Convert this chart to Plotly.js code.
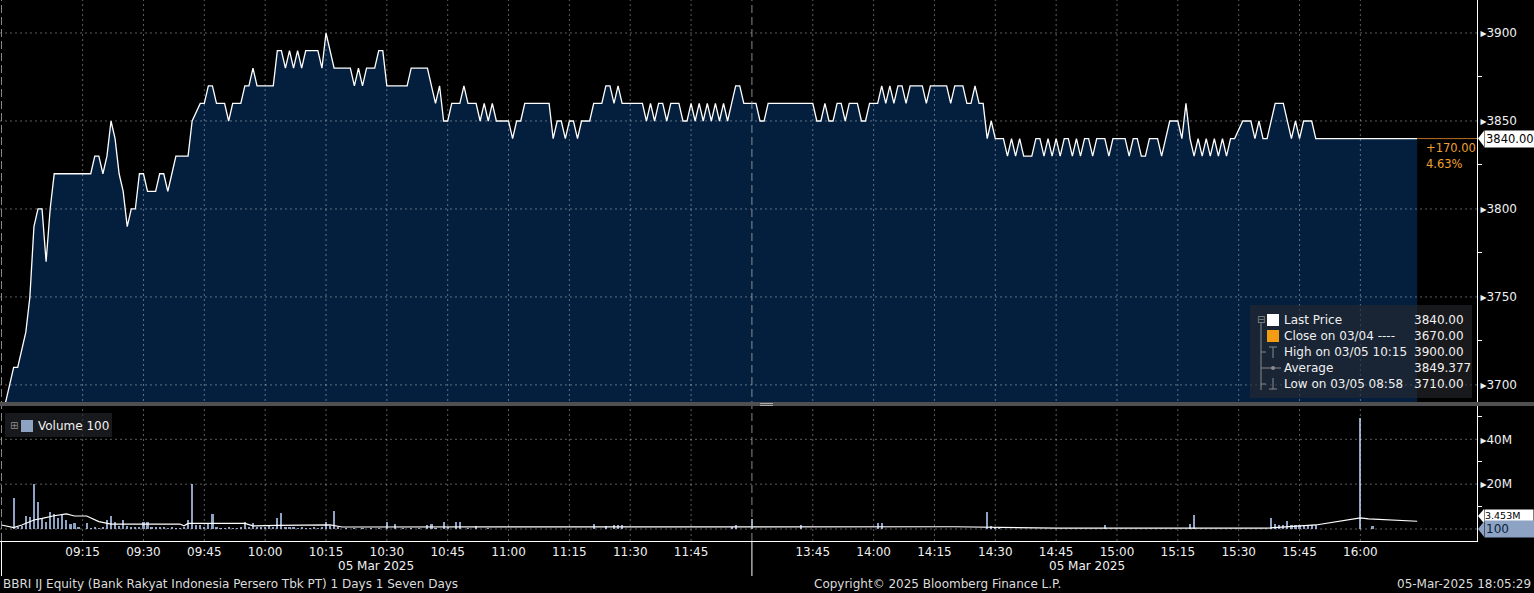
<!DOCTYPE html>
<html><head><meta charset="utf-8">
<script src="https://cdn.plot.ly/plotly-3.0.1.min.js"></script>
<style>html,body{margin:0;padding:0;background:#000;overflow:hidden}#chart{width:1534px;height:593px}</style>
</head><body><div id="chart"></div>
<script>
const DAY = '2025-03-05 ';

// ---- Last price (1-minute), HH:MM / price ----
const priceTimes = ['08:56','08:57','08:58','08:59','09:00','09:01','09:02','09:03','09:04','09:05','09:06','09:07','09:08','09:17','09:18','09:19','09:20','09:21','09:22','09:23','09:24','09:25','09:26','09:27','09:28','09:29','09:30','09:31','09:33','09:34','09:35','09:36','09:37','09:38','09:41','09:42','09:44','09:45','09:46','09:47','09:48','09:50','09:51','09:52','09:54','09:55','09:56','09:57','09:58','10:02','10:03','10:04','10:05','10:06','10:07','10:08','10:09','10:10','10:13','10:14','10:15','10:16','10:17','10:21','10:22','10:23','10:24','10:25','10:27','10:28','10:29','10:30','10:35','10:36','10:40','10:41','10:42','10:43','10:44','10:45','10:46','10:48','10:49','10:50','10:52','10:53','10:54','10:55','10:56','10:57','11:00','11:01','11:02','11:03','11:04','11:10','11:11','11:12','11:13','11:14','11:15','11:16','11:17','11:18','11:20','11:21','11:23','11:24','11:25','11:26','11:27','11:28','11:33','11:34','11:35','11:36','11:37','11:38','11:39','11:40','11:42','11:43','11:44','11:45','11:46','11:47','11:48','11:49','11:50','11:51','11:52','11:53','11:54','11:55','11:56','11:57','11:58','11:59',
'13:30','13:31','13:32','13:33','13:34','13:45','13:46','13:47','13:48','13:49','13:50','13:51','13:52','13:53','13:54','13:56','13:57','13:58','13:59','14:01','14:02','14:03','14:04','14:05','14:06','14:07','14:08','14:09','14:12','14:13','14:14','14:18','14:19','14:20','14:22','14:23','14:24','14:25','14:26','14:27','14:28','14:29','14:30','14:32','14:33','14:34','14:35','14:36','14:37','14:39','14:40','14:41','14:42','14:43','14:44','14:45','14:46','14:47','14:48','14:49','14:50','14:51','14:52','14:53','14:54','14:55','14:57','14:58','14:59','15:02','15:03','15:04','15:05','15:06','15:07','15:08','15:10','15:11','15:12','15:13','15:15','15:16','15:17','15:18','15:19','15:20','15:21','15:22','15:23','15:24','15:25','15:26','15:27','15:28','15:29','15:31','15:33','15:34','15:35','15:36','15:37','15:38','15:39','15:41','15:42','15:43','15:44','15:45','15:46','15:48','15:49','16:00','16:14'];
const priceValues = [3690,3700,3710,3710,3720,3730,3750,3790,3800,3800,3770,3800,3820,3820,3830,3830,3820,3830,3850,3840,3820,3810,3790,3800,3800,3820,3820,3810,3810,3820,3820,3810,3820,3830,3830,3850,3860,3860,3870,3870,3860,3860,3850,3860,3860,3870,3870,3880,3870,3870,3890,3890,3880,3890,3880,3890,3880,3890,3890,3880,3900,3890,3880,3880,3870,3880,3870,3880,3880,3890,3890,3870,3870,3880,3880,3870,3860,3870,3850,3850,3860,3860,3870,3860,3860,3850,3860,3850,3860,3850,3850,3840,3850,3850,3860,3860,3840,3850,3850,3840,3850,3850,3840,3850,3850,3860,3860,3870,3870,3860,3870,3860,3860,3850,3860,3850,3860,3860,3850,3860,3860,3850,3850,3860,3850,3860,3850,3860,3850,3860,3850,3860,3850,3860,3870,3870,3860,3860,
3860,3860,3850,3850,3860,3860,3850,3850,3860,3850,3850,3860,3860,3850,3860,3860,3850,3850,3860,3860,3870,3860,3870,3860,3870,3870,3860,3870,3870,3860,3870,3870,3860,3870,3870,3860,3860,3870,3860,3860,3840,3850,3840,3840,3830,3840,3830,3840,3830,3830,3840,3840,3830,3840,3830,3840,3830,3840,3840,3830,3840,3830,3840,3840,3830,3840,3840,3830,3840,3840,3830,3840,3840,3830,3830,3840,3840,3830,3840,3850,3850,3840,3860,3840,3830,3840,3830,3840,3830,3840,3830,3840,3830,3840,3840,3850,3850,3840,3850,3840,3840,3850,3860,3860,3850,3840,3850,3840,3850,3850,3840,3840,3840];

// ---- Volume bars (millions of shares) ----
const volTimes = ['08:58','08:59','09:00','09:01','09:02','09:03','09:04','09:05','09:06','09:07','09:08','09:09','09:10','09:11','09:12','09:13','09:14','09:16','09:17','09:18','09:19','09:20','09:21','09:22','09:23','09:24','09:25','09:26','09:27','09:28','09:29','09:30','09:31','09:32','09:33','09:34','09:35','09:36','09:37','09:38','09:39','09:40','09:41','09:42','09:43','09:44','09:45','09:46','09:47','09:48','09:49','09:50','09:51','09:52','09:53','09:54','09:55','09:56','09:57','09:58','09:59','10:00','10:01','10:02','10:03','10:04','10:05','10:06','10:07','10:08','10:09','10:10','10:11','10:12','10:13','10:14','10:15','10:16','10:17','10:18','10:20','10:22','10:24','10:26','10:28','10:30','10:32','10:34','10:36','10:38','10:40','10:41','10:42','10:44','10:45','10:47','10:48','10:50','10:52','10:55','11:21','11:24','11:26','11:27','11:28','11:55','11:56','13:30','13:42','14:01','14:02','14:28','14:29','14:30','14:31','14:57','15:18','15:19','15:38','15:39','15:40','15:41','15:42','15:43','15:44','15:45','15:46','15:47','15:48','15:49','16:00','16:03'];
const volValues = [14.0,0.8,1.5,5.9,5.5,20.0,12.0,4.3,3.3,7.6,6.7,5.0,6.2,4.0,2.1,2.5,1.0,2.5,0.6,0.8,0.6,1.0,4.2,6.0,3.0,1.5,4.0,1.2,1.0,1.0,0.8,3.0,3.0,0.8,0.8,0.8,0.8,0.6,0.8,0.6,0.6,0.8,3.8,20.0,2.0,2.0,1.0,2.5,6.5,0.8,0.6,0.6,0.8,0.6,0.6,0.8,3.0,1.0,2.5,0.8,0.8,0.8,2.0,1.0,4.7,7.1,1.0,0.8,0.8,0.6,0.8,0.6,0.6,0.8,0.6,1.0,3.0,1.2,8.0,0.8,0.6,0.6,0.6,0.6,0.6,3.0,2.3,0.6,0.6,0.6,1.7,2.4,0.6,3.0,0.8,3.0,3.0,0.6,1.5,0.6,2.1,1.5,1.6,1.6,2.0,1.0,1.8,4.3,2.0,2.6,2.6,7.6,1.2,1.0,1.0,1.8,2.4,6.2,5.0,2.4,1.8,1.8,3.6,1.8,1.6,1.6,1.6,1.6,1.6,1.6,49.7,1.3];

// ---- Volume average line (millions) ----
const volAvgTimes = ['08:55','08:58','09:00','09:03','09:05','09:08','09:11','09:13','09:16','09:19','09:22','09:39','09:40','09:41','09:55','09:57','10:03','10:13','10:16','10:19','10:58','11:59','13:30','14:20','14:45','15:37','15:49','16:00','16:02','16:09','16:14'];
const volAvgValues = [1.8,0.6,1.8,4.0,4.7,5.9,6.7,5.8,5.8,3.3,2.2,2.2,1.4,2.5,2.5,1.4,1.6,1.6,1.8,0.9,0.9,0.7,0.8,1.0,0.4,0.4,1.8,5.0,4.5,3.7,3.45];

// ---- Axes ----
const xTickTimes = ['09:15','09:30','09:45','10:00','10:15','10:30','10:45','11:00','11:15','11:30','11:45','13:45','14:00','14:15','14:30','14:45','15:00','15:15','15:30','15:45','16:00'];
const sessionStarts = ['08:55','13:30'];
const priceTicks = [3700,3750,3800,3850,3900];
const priceMinorTicks = [3725,3775,3825,3875];
const volTicks = [20,40];
const volMinorTicks = [10,30,50];
const volGrid = [0,20,40];

const lastPrice = 3840.00, prevClose = 3670.00, highPx = 3900.00, avgPx = 3849.377, lowPx = 3710.00;
const lastVolume = 100, avgVolume = 3.453, avgVolumeLabel = '3.453M';

const W = 1477, H = 541;
const px = v => v / W;
const py = v => (H - v) / H;
const T = t => DAY + t + ':00';
const FONT = 'DejaVu Sans, Verdana, sans-serif';
const xRange = [DAY + '08:54:38', DAY + '16:28:45'];

const traces = [
  {x: priceTimes.map(T), y: priceValues, type: 'scatter', mode: 'lines',
   line: {color: '#ffffff', width: 1.3}, fill: 'tozeroy', fillcolor: '#041f3e',
   xaxis: 'x', yaxis: 'y', hoverinfo: 'skip'},
  {x: volTimes.map(T), y: volValues, type: 'bar', width: 32000,
   marker: {color: '#8ea2c3', line: {width: 0}}, xaxis: 'x', yaxis: 'y2', hoverinfo: 'skip'},
  {x: volAvgTimes.map(T), y: volAvgValues, type: 'scatter', mode: 'lines',
   line: {color: '#ffffff', width: 1.2}, xaxis: 'x', yaxis: 'y2', hoverinfo: 'skip'}
];

const shapes = [];
const gridCol = 'rgba(255,255,255,0.36)';
xTickTimes.forEach(t => shapes.push({type: 'line', layer: 'above', xref: 'x', yref: 'paper',
  x0: T(t), x1: T(t), y0: 0, y1: 1, line: {color: gridCol, width: 1, dash: '2px,3px'}}));
priceTicks.forEach(v => shapes.push({type: 'line', layer: 'above', xref: 'paper', yref: 'y',
  x0: 0, x1: 1, y0: v, y1: v, line: {color: gridCol, width: 1, dash: '2px,3px'}}));
volGrid.forEach(v => shapes.push({type: 'line', layer: 'above', xref: 'paper', yref: 'y2',
  x0: 0, x1: 1, y0: v, y1: v, line: {color: gridCol, width: 1, dash: '2px,3px'}}));
sessionStarts.forEach(t => {
  shapes.push({type: 'line', layer: 'above', xref: 'x', yref: 'paper', x0: T(t), x1: T(t), y0: 0, y1: 1,
    line: {color: 'rgba(170,170,170,0.8)', width: 1, dash: '8px,4px'}});
  shapes.push({type: 'line', layer: 'above', xref: 'x', yref: 'paper', x0: T(t), x1: T(t), y0: py(541), y1: py(576),
    line: {color: '#ffffff', width: 1}});
});
// last price extension to the axis
shapes.push({type: 'line', layer: 'above', xref: 'x', yref: 'y',
  x0: T(priceTimes[priceTimes.length - 1]), x1: xRange[1], y0: lastPrice, y1: lastPrice,
  line: {color: '#b86e22', width: 1}});
// separator bar between panels
shapes.push({type: 'rect', layer: 'above', xref: 'paper', yref: 'paper', x0: 0, x1: px(1534), y0: py(406), y1: py(402),
  fillcolor: '#505050', line: {width: 0}});
shapes.push({type: 'line', layer: 'above', xref: 'paper', yref: 'paper', x0: px(760), x1: px(773), y0: py(403.5), y1: py(403.5), line: {color: '#aaa', width: 1}});
shapes.push({type: 'line', layer: 'above', xref: 'paper', yref: 'paper', x0: px(760), x1: px(773), y0: py(405.5), y1: py(405.5), line: {color: '#aaa', width: 1}});
// price legend box
shapes.push({type: 'rect', layer: 'above', xref: 'paper', yref: 'paper', x0: px(1250), x1: px(1472), y0: py(398), y1: py(305),
  fillcolor: 'rgba(38,40,46,0.62)', line: {width: 0}});
shapes.push({type: 'rect', layer: 'above', xref: 'paper', yref: 'paper', x0: px(1267), x1: px(1279), y0: py(326), y1: py(314), fillcolor: '#ffffff', line: {width: 0}});
shapes.push({type: 'rect', layer: 'above', xref: 'paper', yref: 'paper', x0: px(1267), x1: px(1279), y0: py(342), y1: py(330), fillcolor: '#f39c12', line: {width: 0}});
const gl = {color: '#8a8a8a', width: 1};
[[1261,323,1261,390],[1261,352,1266,352],[1261,368,1266,368],[1261,384,1266,384],
 [1273,347,1273,358],[1269,347,1277,347],[1266,368,1281,368],[1273,378,1273,389],[1269,389,1277,389]]
 .forEach(s => shapes.push({type: 'line', layer: 'above', xref: 'paper', yref: 'paper', x0: px(s[0]), y0: py(s[1]), x1: px(s[2]), y1: py(s[3]), line: gl}));
shapes.push({type: 'circle', layer: 'above', xref: 'paper', yref: 'paper', x0: px(1271), x1: px(1275), y0: py(370), y1: py(366), fillcolor: '#8a8a8a', line: {width: 0}});
// volume legend box
shapes.push({type: 'rect', layer: 'above', xref: 'paper', yref: 'paper', x0: px(5), x1: px(112), y0: py(437), y1: py(413),
  fillcolor: 'rgba(38,40,46,0.62)', line: {width: 0}});
shapes.push({type: 'rect', layer: 'above', xref: 'paper', yref: 'paper', x0: px(21), x1: px(33), y0: py(432), y1: py(420), fillcolor: '#8ea2c3', line: {width: 0}});
// right-axis tag pointers
shapes.push({type: 'path', layer: 'above', xref: 'paper', yref: 'y',
  path: `M ${px(1478)},${lastPrice} L ${px(1484)},${lastPrice + 4.5} L ${px(1484)},${lastPrice - 4.5} Z`, fillcolor: '#ffffff', line: {width: 0}});
shapes.push({type: 'path', layer: 'above', xref: 'paper', yref: 'y2',
  path: `M ${px(1478)},${avgVolume + 2.3} L ${px(1484)},${avgVolume + 5.5} L ${px(1484)},${avgVolume - 0.9} Z`, fillcolor: '#ffffff', line: {width: 0}});
shapes.push({type: 'path', layer: 'above', xref: 'paper', yref: 'y2',
  path: `M ${px(1478)},${0} L ${px(1484)},${3.4} L ${px(1484)},${-3.4} Z`, fillcolor: '#8ea2c3', line: {width: 0}});

const A = (text, x, y, opt) => Object.assign({text, x, y, xref: 'paper', yref: 'paper', showarrow: false,
  xanchor: 'left', yanchor: 'middle', font: {family: FONT, size: 12, color: '#f0f0f0'}}, opt || {});
const BOT = {family: FONT, size: 12, color: '#dcdcdc'};

const annotations = [
  A('05 Mar 2025', px(376), py(566), {xanchor: 'center'}),
  A('05 Mar 2025', px(1087), py(566), {xanchor: 'center'}),
  A('BBRI IJ Equity (Bank Rakyat Indonesia Persero Tbk PT) 1 Days 1 Seven Days', px(1), py(584), {font: BOT}),
  A('Copyright© 2025 Bloomberg Finance L.P.', px(812), py(584), {font: BOT}),
  A('05-Mar-2025 18:05:29', px(1533), py(584), {xanchor: 'right', font: BOT}),
  // price legend
  A('⊟', px(1255), py(319), {font: {family: FONT, size: 10, color: '#8a8a8a'}}),
  A('Last Price', px(1282), py(320)),
  A('Close on 03/04 ----', px(1282), py(336)),
  A('High on 03/05 10:15', px(1282), py(352)),
  A('Average', px(1282), py(368)),
  A('Low on 03/05 08:58', px(1282), py(384)),
  A(lastPrice.toFixed(2), px(1412), py(320)),
  A(prevClose.toFixed(2), px(1412), py(336)),
  A(highPx.toFixed(2), px(1412), py(352)),
  A(avgPx.toFixed(3), px(1412), py(368)),
  A(lowPx.toFixed(2), px(1412), py(384)),
  // volume legend
  A('⊞', px(8), py(425), {font: {family: FONT, size: 10, color: '#8a8a8a'}}),
  A('Volume ' + lastVolume, px(36), py(426)),
  // change labels
  A('+' + (lastPrice - prevClose).toFixed(2), px(1424), lastPrice, {yref: 'y', yshift: -9, font: {family: FONT, size: 11.5, color: '#f0a030'}}),
  A(((lastPrice - prevClose) / prevClose * 100).toFixed(2) + '%', px(1424), lastPrice, {yref: 'y', yshift: -25, font: {family: FONT, size: 11.5, color: '#f0a030'}}),
  // right axis tags
  A(lastPrice.toFixed(2), px(1484), lastPrice, {yref: 'y', bgcolor: '#ffffff', borderpad: 1, width: 48, align: 'left', font: {family: FONT, size: 11.5, color: '#000'}}),
  A(avgVolumeLabel, px(1484), avgVolume, {yref: 'y2', yshift: 6, bgcolor: '#ffffff', borderpad: 0, width: 48, align: 'left', font: {family: FONT, size: 9.5, color: '#000'}}),
  A(String(lastVolume), px(1484), 0, {yref: 'y2', bgcolor: '#8ea2c3', borderpad: 1, width: 48, align: 'left', font: {family: FONT, size: 12, color: '#0b1e3a'}})
];

const layout = {
  width: 1534, height: 593,
  margin: {l: 0, r: 57, t: 0, b: 52, pad: 0},
  paper_bgcolor: '#000', plot_bgcolor: '#000',
  showlegend: false, hovermode: false, bargap: 0,
  font: {family: FONT, color: '#f0f0f0', size: 12},
  xaxis: {type: 'date', range: xRange, anchor: 'y2',
    rangebreaks: [{bounds: [DAY + '12:00:00', DAY + '13:30:00']}],
    tickmode: 'array', tickvals: xTickTimes.map(T), ticktext: xTickTimes,
    showgrid: false, zeroline: false, showline: true, linecolor: '#ffffff', linewidth: 1,
    ticks: '', tickfont: {family: FONT, size: 12, color: '#f0f0f0'}, fixedrange: true},
  yaxis: {domain: [py(402), 1], range: [3690.3, 3918.75], side: 'right', anchor: 'x',
    tickmode: 'array', tickvals: priceTicks, ticktext: priceTicks.map(v => '▸' + v),
    showgrid: false, zeroline: false, showline: true, linecolor: '#ffffff', linewidth: 1,
    ticks: '', tickfont: {family: FONT, size: 12, color: '#f0f0f0'},
    minor: {tickmode: 'array', tickvals: priceMinorTicks, ticks: 'outside', ticklen: 4, tickcolor: '#ffffff', showgrid: false}},
  yaxis2: {domain: [0, py(406)], range: [-5.35, 54.85], side: 'right', anchor: 'x',
    tickmode: 'array', tickvals: volTicks, ticktext: volTicks.map(v => '▸' + v + 'M'),
    showgrid: false, zeroline: false, showline: true, linecolor: '#ffffff', linewidth: 1,
    ticks: '', tickfont: {family: FONT, size: 12, color: '#f0f0f0'},
    minor: {tickmode: 'array', tickvals: volMinorTicks, ticks: 'outside', ticklen: 4, tickcolor: '#ffffff', showgrid: false}},
  shapes, annotations
};

Plotly.newPlot('chart', traces, layout, {staticPlot: true, displayModeBar: false});
</script></body></html>
